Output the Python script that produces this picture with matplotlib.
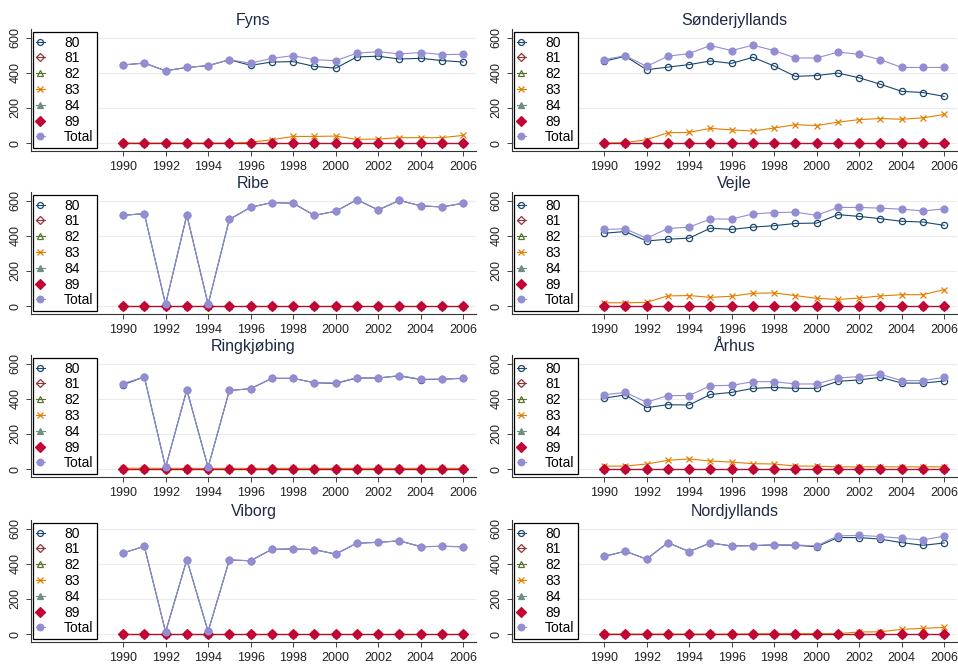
import numpy as np
import matplotlib.pyplot as plt

plt.rcParams["font.family"] = ["Liberation Sans", "DejaVu Sans"]

YEARS = list(range(1990, 2007))
SERIES = ["80", "81", "82", "83", "84", "89", "Total"]
ZERO = [0, 0, 0, 0, 0, 0, 0, 0, 0, 0, 0, 0, 0, 0, 0, 0, 0]

# values, 1990..2006
FYNS_80 = [445, 456, 412, 431, 441, 475, 443, 462, 464, 437, 427, 491, 495, 479, 483, 470, 462]
FYNS_83 = [0, 0, 0, 0, 0, 0, 5, 19, 38, 38, 40, 21, 23, 31, 31, 31, 44]
FYNS_TOT = [445, 456, 412, 431, 441, 475, 455, 483, 498, 475, 470, 512, 521, 508, 516, 504, 506]

SONDER_80 = [466, 495, 418, 433, 447, 468, 454, 489, 439, 380, 385, 399, 372, 335, 295, 288, 266]
SONDER_83 = [0, 3, 19, 59, 61, 84, 75, 69, 86, 105, 100, 119, 134, 140, 136, 144, 163]
SONDER_TOT = [475, 498, 437, 495, 510, 556, 527, 558, 527, 485, 485, 518, 506, 475, 431, 431, 431]

RIBE_80 = [517, 527, 10, 519, 10, 494, 563, 590, 586, 517, 540, 606, 548, 602, 571, 565, 586]
RIBE_83 = ZERO
RIBE_TOT = [517, 527, 10, 519, 10, 494, 563, 590, 586, 517, 540, 606, 548, 602, 571, 565, 586]

VEJLE_80 = [415, 425, 371, 381, 387, 444, 437, 450, 458, 471, 473, 521, 511, 498, 483, 479, 460]
VEJLE_83 = [19, 19, 21, 58, 60, 50, 56, 73, 75, 60, 44, 38, 46, 58, 65, 65, 94]
VEJLE_TOT = [437, 440, 387, 442, 450, 496, 496, 525, 533, 535, 517, 562, 562, 558, 552, 542, 554]

RINGK_80 = [481, 525, 10, 452, 10, 448, 458, 517, 517, 492, 488, 519, 519, 531, 510, 512, 517]
RINGK_83 = [5, 5, 4, 4, 4, 4, 4, 4, 4, 4, 4, 4, 4, 4, 4, 4, 4]
RINGK_TOT = [487, 525, 10, 452, 10, 448, 458, 517, 517, 492, 490, 521, 519, 533, 512, 512, 519]

AARHUS_80 = [404, 423, 350, 367, 365, 425, 437, 460, 465, 460, 460, 500, 508, 523, 490, 490, 502]
AARHUS_83 = [17, 17, 29, 50, 58, 46, 40, 31, 29, 17, 17, 13, 13, 13, 13, 13, 13]
AARHUS_TOT = [423, 437, 381, 419, 419, 475, 477, 498, 498, 485, 485, 519, 527, 540, 504, 504, 523]

VIBORG_80 = [462, 500, 12, 424, 15, 422, 418, 483, 485, 481, 456, 518, 523, 531, 498, 500, 498]
VIBORG_83 = ZERO
VIBORG_TOT = [462, 500, 12, 424, 15, 422, 418, 483, 485, 481, 456, 518, 523, 531, 498, 500, 498]

NORD_80 = [443, 472, 427, 521, 470, 519, 502, 504, 508, 506, 498, 550, 550, 541, 521, 506, 519]
NORD_83 = [0, 0, 0, 0, 0, 0, 0, 2, 3, 3, 3, 3, 12, 13, 27, 33, 38]
NORD_TOT = [443, 472, 427, 521, 470, 519, 502, 504, 510, 508, 502, 560, 562, 556, 546, 537, 558]

REGIONS = ["Fyns", "Sønderjyllands", "Ribe", "Vejle",
           "Ringkjøbing", "Århus", "Viborg", "Nordjyllands"]
DATA = {
    "Fyns": (FYNS_80, FYNS_83, FYNS_TOT),
    "Sønderjyllands": (SONDER_80, SONDER_83, SONDER_TOT),
    "Ribe": (RIBE_80, RIBE_83, RIBE_TOT),
    "Vejle": (VEJLE_80, VEJLE_83, VEJLE_TOT),
    "Ringkjøbing": (RINGK_80, RINGK_83, RINGK_TOT),
    "Århus": (AARHUS_80, AARHUS_83, AARHUS_TOT),
    "Viborg": (VIBORG_80, VIBORG_83, VIBORG_TOT),
    "Nordjyllands": (NORD_80, NORD_83, NORD_TOT),
}

# stata s2color look: colour, marker, filled?, marker size
STYLE = {
    "80": ("#1a476f", "o", False, 4.5),
    "81": ("#90353b", "D", False, 4.0),
    "82": ("#55752f", "^", False, 4.5),
    "83": ("#e37e00", "x", True, 4.0),
    "84": ("#6e8e84", "^", True, 4.5),
    "89": ("#c10534", "D", True, 5.3),
    "Total": ("#938dd2", "o", True, 5.0),
}

W, H = 958, 664
fig = plt.figure(figsize=(W / 100, H / 100), dpi=100)
fig.patch.set_facecolor("white")

col_left = [31, 512]
ax_w = 445
ax_h = 122
row_bottom = [151, 314, 477, 642]

for i, reg in enumerate(REGIONS):
    r, c = divmod(i, 2)
    ax = fig.add_axes([col_left[c] / W, 1 - row_bottom[r] / H, ax_w / W, ax_h / H])
    s80, s83, stot = DATA[reg]
    vals = {"80": s80, "81": ZERO, "82": ZERO, "83": s83,
            "84": ZERO, "89": ZERO, "Total": stot}
    for s in SERIES:
        col, mk, filled, ms = STYLE[s]
        ax.plot(YEARS, vals[s], color=col, lw=0.8, marker=mk, ms=ms,
                mfc=col if filled else "none", mec=col, mew=0.9, label=s)
    ax.set_xlim(1985.67, 2006.6)
    ax.set_ylim(-45, 650)
    ax.set_xticks(range(1990, 2007, 2))
    ax.set_yticks([0, 200, 400, 600])
    ax.tick_params(axis="both", labelsize=9, colors="#222222", length=3.5, width=0.6)
    for lab in ax.get_yticklabels():
        lab.set_rotation(90)
        lab.set_va("center")
    ax.grid(axis="y", color="#ebebeb", lw=0.8)
    ax.set_axisbelow(True)
    for side in ("top", "right"):
        ax.spines[side].set_visible(False)
    for side in ("left", "bottom"):
        ax.spines[side].set_color("#333333")
        ax.spines[side].set_linewidth(0.8)
    ax.set_title(reg, fontsize=11.5, color="#1c2a44", pad=3)
    leg = ax.legend(loc="upper left", bbox_to_anchor=(0.004, 0.975), borderaxespad=0,
                    fontsize=10, handlelength=0.6, handletextpad=1.4, labelspacing=0.13,
                    markerscale=0.95, borderpad=0.25, fancybox=False, frameon=True,
                    framealpha=1)
    leg.get_frame().set_edgecolor("black")
    leg.get_frame().set_linewidth(0.9)

fig.savefig("out.png", dpi=100)
